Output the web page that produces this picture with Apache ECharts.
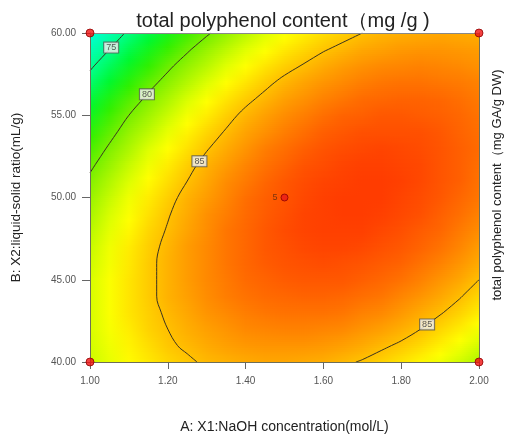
<!DOCTYPE html>
<html>
<head>
<meta charset="utf-8">
<script src="https://cdn.jsdelivr.net/npm/echarts@6/dist/echarts.min.js"></script>
<style>
html,body{margin:0;padding:0;background:#fff}
#chart{width:509px;height:438px}
</style>
</head>
<body>
<div id="chart"></div>
<script>
// Factor levels of the design (A: NaOH concentration, B: liquid-solid ratio)
const xLevels = [1.00,1.05,1.10,1.15,1.20,1.25,1.30,1.35,1.40,1.45,1.50,1.55,1.60,1.65,1.70,1.75,1.80,1.85,1.90,1.95,2.00];
const yLevels = [40,41,42,43,44,45,46,47,48,49,50,51,52,53,54,55,56,57,58,59,60];

// Predicted total polyphenol content (mg/g); one row per liquid-solid ratio, bottom row first
const tpcGrid = [
  [82.0,82.7,83.4,83.9,84.4,84.8,85.2,85.4,85.6,85.7,85.7,85.6,85.5,85.2,84.9,84.5,84.0,83.5,82.9,82.1,81.3],
  [82.2,82.9,83.6,84.2,84.8,85.2,85.6,85.9,86.1,86.2,86.2,86.2,86.1,85.9,85.6,85.2,84.8,84.3,83.7,83.0,82.2],
  [82.3,83.1,83.8,84.5,85.0,85.5,85.9,86.2,86.5,86.6,86.7,86.7,86.6,86.5,86.2,85.9,85.5,85.0,84.4,83.8,83.0],
  [82.3,83.2,84.0,84.6,85.2,85.7,86.2,86.5,86.8,87.0,87.1,87.1,87.1,87.0,86.7,86.5,86.1,85.6,85.1,84.5,83.8],
  [82.3,83.2,84.0,84.7,85.4,85.9,86.4,86.8,87.1,87.3,87.4,87.5,87.5,87.4,87.2,87.0,86.6,86.2,85.7,85.1,84.4],
  [82.3,83.2,84.0,84.7,85.4,86.0,86.5,86.9,87.3,87.5,87.7,87.8,87.8,87.8,87.6,87.4,87.1,86.7,86.2,85.7,85.0],
  [82.1,83.0,83.9,84.7,85.4,86.0,86.5,87.0,87.4,87.7,87.9,88.0,88.1,88.0,87.9,87.7,87.5,87.1,86.7,86.2,85.6],
  [81.9,82.9,83.8,84.6,85.3,86.0,86.5,87.0,87.4,87.8,88.0,88.2,88.3,88.3,88.2,88.0,87.8,87.5,87.1,86.6,86.0],
  [81.6,82.6,83.5,84.4,85.1,85.8,86.4,87.0,87.4,87.8,88.1,88.3,88.4,88.4,88.4,88.2,88.0,87.7,87.4,86.9,86.4],
  [81.2,82.3,83.2,84.1,84.9,85.6,86.3,86.8,87.3,87.7,88.0,88.3,88.4,88.5,88.5,88.4,88.2,88.0,87.6,87.2,86.7],
  [80.8,81.9,82.9,83.8,84.6,85.4,86.0,86.6,87.2,87.6,87.9,88.2,88.4,88.5,88.5,88.5,88.3,88.1,87.8,87.4,87.0],
  [80.3,81.4,82.4,83.4,84.2,85.0,85.7,86.4,86.9,87.4,87.8,88.1,88.3,88.4,88.5,88.5,88.4,88.2,87.9,87.6,87.1],
  [79.7,80.8,81.9,82.9,83.8,84.6,85.4,86.0,86.6,87.1,87.5,87.9,88.1,88.3,88.4,88.4,88.3,88.2,87.9,87.6,87.2],
  [79.0,80.2,81.3,82.4,83.3,84.1,84.9,85.6,86.2,86.8,87.2,87.6,87.9,88.1,88.2,88.3,88.2,88.1,87.9,87.6,87.3],
  [78.3,79.5,80.7,81.7,82.7,83.6,84.4,85.1,85.8,86.3,86.8,87.2,87.6,87.8,88.0,88.0,88.0,88.0,87.8,87.5,87.2],
  [77.5,78.8,80.0,81.0,82.0,83.0,83.8,84.6,85.3,85.9,86.4,86.8,87.2,87.5,87.6,87.8,87.8,87.7,87.6,87.4,87.1],
  [76.7,78.0,79.2,80.3,81.3,82.3,83.2,84.0,84.7,85.3,85.9,86.3,86.7,87.0,87.3,87.4,87.5,87.5,87.4,87.2,86.9],
  [75.7,77.1,78.3,79.5,80.5,81.5,82.4,83.3,84.0,84.7,85.3,85.8,86.2,86.5,86.8,87.0,87.1,87.1,87.0,86.9,86.7],
  [74.7,76.1,77.4,78.5,79.7,80.7,81.6,82.5,83.3,84.0,84.6,85.1,85.6,86.0,86.3,86.5,86.6,86.7,86.6,86.5,86.3],
  [73.7,75.0,76.4,77.6,78.7,79.8,80.8,81.7,82.5,83.2,83.9,84.4,84.9,85.3,85.7,85.9,86.1,86.2,86.2,86.1,86.0],
  [72.5,73.9,75.3,76.5,77.7,78.8,79.8,80.7,81.6,82.4,83.1,83.7,84.2,84.6,85.0,85.3,85.5,85.6,85.7,85.6,85.5]
];

// Contour levels and where their value boxes sit
const contourLevels = [75, 80, 85];
const contourLabelSpots = [[1.046, 59.3, 75], [1.14, 56.4, 80], [1.27, 52.4, 85], [1.854, 42.7, 85]];

// Design points: factorial corners and the replicated centre point (5 runs)
const designPoints = [[1.00, 40], [1.00, 60], [2.00, 40], [2.00, 60]];
const centerPoint = [[1.50, 50, 5]];

// Colour ramp: response value -> colour
const rampStops = [
  [72.5, '#00ffd8'], [75, '#00ff8c'], [77, '#00f830'], [78.5, '#30f000'],
  [80, '#78ee00'], [81.5, '#b4f800'], [82.5, '#e0ff00'], [83.3, '#ffff00'],
  [85, '#ffc000'], [86, '#ff9c00'], [87, '#ff7600'], [88, '#ff5000'], [88.6, '#ff3800']
];

const FONT = '"Liberation Sans", Arial, sans-serif';

function rampColor(v) {
  if (v <= rampStops[0][0]) return rampStops[0][1];
  for (let k = 0; k < rampStops.length - 1; k++) {
    const a = rampStops[k], b = rampStops[k + 1];
    if (v <= b[0]) return echarts.color.lerp((v - a[0]) / (b[0] - a[0]), [a[1], b[1]]);
  }
  return rampStops[rampStops.length - 1][1];
}

// Marching squares over the grid, chained into polylines
function traceContours(level) {
  const nx = xLevels.length, ny = yLevels.length;
  const pts = {}, adj = {};
  const link = (a, b) => { (adj[a] = adj[a] || []).push(b); (adj[b] = adj[b] || []).push(a); };
  for (let j = 0; j < ny - 1; j++) {
    for (let i = 0; i < nx - 1; i++) {
      const v00 = tpcGrid[j][i], v10 = tpcGrid[j][i + 1], v01 = tpcGrid[j + 1][i], v11 = tpcGrid[j + 1][i + 1];
      const hits = [];
      const edge = (key, xa, ya, va, xb, yb, vb) => {
        if ((va < level) !== (vb < level)) {
          const t = (level - va) / (vb - va);
          pts[key] = [xa + (xb - xa) * t, ya + (yb - ya) * t];
          hits.push(key);
        }
      };
      edge('h' + i + '_' + j, xLevels[i], yLevels[j], v00, xLevels[i + 1], yLevels[j], v10);
      edge('v' + (i + 1) + '_' + j, xLevels[i + 1], yLevels[j], v10, xLevels[i + 1], yLevels[j + 1], v11);
      edge('h' + i + '_' + (j + 1), xLevels[i], yLevels[j + 1], v01, xLevels[i + 1], yLevels[j + 1], v11);
      edge('v' + i + '_' + j, xLevels[i], yLevels[j], v00, xLevels[i], yLevels[j + 1], v01);
      for (let s = 0; s + 1 < hits.length; s += 2) link(hits[s], hits[s + 1]);
    }
  }
  const seen = new Set(), lines = [];
  const walk = (start) => {
    const line = [pts[start]];
    seen.add(start);
    let cur = start;
    for (;;) {
      const next = (adj[cur] || []).find(k => !seen.has(k));
      if (!next) break;
      seen.add(next);
      line.push(pts[next]);
      cur = next;
    }
    return line;
  };
  Object.keys(adj).filter(k => adj[k].length === 1).forEach(k => { if (!seen.has(k)) lines.push(walk(k)); });
  Object.keys(adj).forEach(k => { if (!seen.has(k)) { const l = walk(k); l.push(l[0]); lines.push(l); } });
  return lines;
}

const contours = {};
contourLevels.forEach(lv => { contours[lv] = traceContours(lv); });

// Snap each value box onto its contour line
const SX = 390, SY = 329 / 20;
function snapToContour(x, y, level) {
  let best = null, bestD = Infinity;
  contours[level].forEach(line => {
    for (let k = 0; k < line.length - 1; k++) {
      const ax = line[k][0] * SX, ay = line[k][1] * SY, bx = line[k + 1][0] * SX, by = line[k + 1][1] * SY;
      const px = x * SX, py = y * SY;
      const dx = bx - ax, dy = by - ay;
      const L = dx * dx + dy * dy || 1;
      const t = Math.max(0, Math.min(1, ((px - ax) * dx + (py - ay) * dy) / L));
      const qx = ax + dx * t, qy = ay + dy * t;
      const d = (qx - px) * (qx - px) + (qy - py) * (qy - py);
      if (d < bestD) { bestD = d; best = [qx / SX, qy / SY]; }
    }
  });
  return best || [x, y];
}

const SUB = 8;
const xFirst = xLevels[0], xLast = xLevels[xLevels.length - 1];

const series = [];

series.push({
  type: 'custom',
  coordinateSystem: 'cartesian2d',
  silent: true,
  clip: true,
  z: 1,
  data: yLevels.slice(0, -1).map((y, j) => [1.5, y, j]),
  encode: { x: 0, y: 1 },
  renderItem: function (params, api) {
    const j = api.value(2);
    const lo = tpcGrid[j], hi = tpcGrid[j + 1];
    const y0 = yLevels[j], y1 = yLevels[j + 1];
    const children = [];
    for (let k = 0; k < SUB; k++) {
      const tm = (k + 0.5) / SUB;
      const yb = y0 + (y1 - y0) * k / SUB, yt = y0 + (y1 - y0) * (k + 1) / SUB;
      const pTL = api.coord([xFirst, yt]), pBR = api.coord([xLast, yb]);
      const stops = lo.map((v, i) => ({
        offset: (xLevels[i] - xFirst) / (xLast - xFirst),
        color: rampColor(v + (hi[i] - v) * tm)
      }));
      children.push({
        type: 'rect',
        shape: { x: pTL[0], y: pTL[1] - 0.5, width: pBR[0] - pTL[0], height: pBR[1] - pTL[1] + 1 },
        style: { fill: new echarts.graphic.LinearGradient(0, 0, 1, 0, stops) }
      });
    }
    return { type: 'group', children: children };
  }
});

contourLevels.forEach(lv => {
  contours[lv].forEach(line => {
    series.push({
      type: 'line',
      data: line,
      showSymbol: false,
      smooth: 0.4,
      silent: true,
      clip: true,
      z: 3,
      lineStyle: { color: '#3a3320', width: 1 }
    });
  });
});

series.push({
  type: 'scatter',
  data: contourLabelSpots.map(s => { const p = snapToContour(s[0], s[1], s[2]); return [p[0], p[1], s[2]]; }),
  symbolSize: 0,
  silent: true,
  z: 4,
  label: {
    show: true,
    position: 'inside',
    formatter: p => String(p.value[2]),
    fontFamily: FONT,
    fontSize: 9,
    color: '#333',
    backgroundColor: '#f2f2f2',
    borderColor: '#555',
    borderWidth: 1,
    padding: [1, 2, 0, 2]
  }
});

series.push({
  type: 'scatter',
  data: designPoints,
  symbolSize: 8,
  clip: false,
  silent: true,
  z: 6,
  itemStyle: { color: '#f01010', borderColor: '#900000', borderWidth: 1 }
});

series.push({
  type: 'scatter',
  data: centerPoint,
  symbolSize: 7,
  clip: false,
  silent: true,
  z: 6,
  itemStyle: { color: '#e81a1a', borderColor: '#8a0000', borderWidth: 1 },
  label: {
    show: true,
    position: 'left',
    distance: 3,
    formatter: p => String(p.value[2]),
    fontFamily: FONT,
    fontSize: 9,
    color: '#5a2a10'
  }
});

const axisColor = '#6e6e58';

const option = {
  animation: false,
  backgroundColor: '#ffffff',
  grid: { left: 90, right: 30, top: 33, bottom: 76, outerBoundsMode: 'none', containLabel: false },
  xAxis: [{
    type: 'value',
    min: 1.0, max: 2.0, interval: 0.2,
    z: 5,
    name: 'A: X1:NaOH concentration(mol/L)',
    nameLocation: 'middle',
    nameGap: 58,
    nameTextStyle: { fontFamily: FONT, fontSize: 14, color: '#222' },
    axisLine: { show: true, lineStyle: { color: axisColor, width: 1 } },
    axisTick: { show: true, length: 7, lineStyle: { color: '#666' } },
    axisLabel: { formatter: v => v.toFixed(2), fontFamily: FONT, fontSize: 10, color: '#555', margin: 14 },
    splitLine: { show: false }
  }, {
    type: 'value', position: 'top', min: 1.0, max: 2.0, z: 5,
    axisLine: { show: true, lineStyle: { color: '#888', width: 1 } },
    axisTick: { show: false }, axisLabel: { show: false }, splitLine: { show: false }
  }],
  yAxis: [{
    type: 'value',
    min: 40, max: 60, interval: 5,
    z: 5,
    name: 'B: X2:liquid-solid ratio(mL/g)',
    nameLocation: 'middle',
    nameGap: 67,
    nameTextStyle: { fontFamily: FONT, fontSize: 13.5, color: '#222' },
    axisLine: { show: true, lineStyle: { color: axisColor, width: 1 } },
    axisTick: { show: true, length: 8, lineStyle: { color: '#666' } },
    axisLabel: { formatter: v => v.toFixed(2), fontFamily: FONT, fontSize: 10, color: '#555', margin: 14 },
    splitLine: { show: false }
  }, {
    type: 'value', position: 'right', min: 40, max: 60, z: 5,
    axisLine: { show: true, lineStyle: { color: axisColor, width: 1 } },
    axisTick: { show: false }, axisLabel: { show: false }, splitLine: { show: false }
  }],
  graphic: [{
    type: 'text',
    x: 283, y: 21,
    style: {
      text: 'total polyphenol content（mg /g )',
      font: '20px ' + FONT,
      fill: '#222',
      textAlign: 'center',
      textVerticalAlign: 'middle'
    }
  }, {
    type: 'text',
    x: 497, y: 185,
    rotation: Math.PI / 2,
    style: {
      text: 'total polyphenol content（mg GA/g DW)',
      font: '13px ' + FONT,
      fill: '#222',
      textAlign: 'center',
      textVerticalAlign: 'middle'
    }
  }],
  series: series
};

const chart = echarts.init(document.getElementById('chart'), null, { renderer: 'canvas' });
chart.setOption(option);
</script>
</body>
</html>
